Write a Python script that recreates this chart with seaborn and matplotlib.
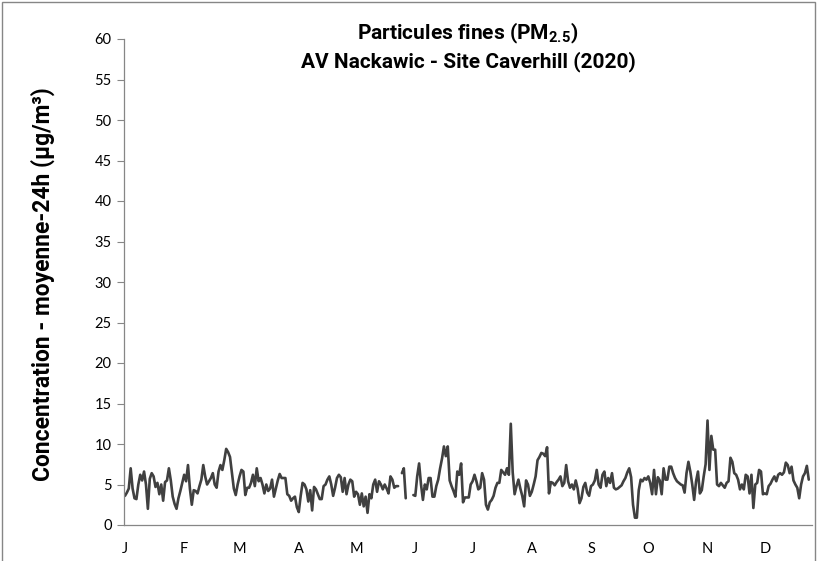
import pandas as pd
import matplotlib
matplotlib.use('Agg')
import matplotlib.pyplot as plt
import matplotlib.dates as mdates
from matplotlib.patches import Rectangle
import seaborn as sns

# Daily 24h mean PM2.5 (ug/m3), 2020 (NaN = missing day)
nan = float('nan')
jan = [3.6, 4.0, 4.5, 7.0, 4.5, 3.3, 3.2, 5.0, 6.2, 5.5, 6.6, 5.0, 2.0, 5.7, 6.4, 6.0,
       4.7, 5.2, 3.8, 5.0, 3.0, 5.3, 5.5, 7.0, 5.5, 3.5, 2.6, 2.0, 3.3, 4.2, 5.2]
feb = [6.2, 5.4, 7.4, 4.5, 2.5, 4.3, 4.2, 3.9, 4.8, 5.6, 7.4, 6.0, 5.0, 5.4, 5.8,
       6.4, 5.0, 4.6, 6.6, 7.4, 6.8, 8.0, 9.4, 9.0, 8.4, 6.5, 4.5, 3.7, 5.0]
mar = [6.0, 6.8, 6.6, 3.7, 4.6, 4.6, 5.2, 6.2, 4.8, 7.0, 5.4, 5.8, 5.0, 3.9, 5.0, 4.2,
       4.5, 5.6, 3.5, 4.5, 5.5, 6.3, 5.8, 5.8, 5.8, 3.8, 3.6, 3.0, 3.3, 3.5, 2.2]
apr = [1.6, 3.6, 5.2, 5.0, 4.4, 2.9, 4.3, 1.8, 4.7, 4.4, 3.8, 3.2, 3.2, 4.8, 5.0,
       5.6, 6.0, 5.0, 3.6, 4.6, 5.8, 6.2, 5.9, 4.1, 5.8, 3.8, 5.0, 5.6, 5.4, 3.5]
may = [4.1, 3.8, 2.5, 3.9, 2.3, 3.5, 1.5, 3.8, 3.3, 5.0, 5.6, 4.1, 5.4, 5.0, 4.4, 5.0,
       4.5, 3.9, 6.0, 5.6, 4.6, 4.8, 4.8, nan, 6.4, 7.0, 3.3, nan, nan, nan, 3.7]
jun = [3.6, 6.0, 7.6, 5.0, 3.1, 5.0, 4.4, 5.8, 5.8, 3.5, 3.5, 4.8, 5.6, 7.0, 8.2,
       9.7, 8.5, 9.7, 5.5, 4.8, 4.2, 3.5, 6.6, 6.2, 7.6, 2.8, 3.4, 3.4, 3.4, 5.0]
jul = [5.4, 6.2, 5.4, 4.4, 4.6, 6.4, 5.6, 2.5, 1.9, 2.8, 3.1, 3.6, 4.6, 5.2, 5.2, 6.8,
       6.5, 6.2, 7.0, 6.2, 12.5, 6.5, 3.8, 4.8, 5.6, 4.5, 3.6, 2.3, 5.5, 5.0, 3.6]
aug = [4.1, 5.0, 6.0, 8.0, 8.4, 8.9, 8.8, 8.5, 9.6, 3.9, 5.3, 5.2, 4.9, 5.3, 5.6, 6.0,
       4.8, 5.2, 7.4, 5.4, 4.6, 5.0, 4.4, 5.5, 4.5, 2.7, 3.3, 4.7, 5.2, 4.0, 3.6]
sep = [4.8, 5.0, 5.5, 6.8, 5.0, 4.6, 6.2, 6.6, 4.8, 5.8, 5.2, 6.4, 4.6, 4.4, 4.5,
       4.7, 4.9, 5.4, 5.8, 6.5, 7.0, 5.9, 2.5, 0.9, 0.9, 4.3, 5.6, 5.4, 5.8, 5.6]
oct_ = [6.0, 5.2, 3.8, 6.8, 3.8, 5.9, 5.5, 3.8, 7.0, 5.6, 5.6, 7.2, 7.2, 6.4, 5.8, 5.4,
        5.2, 5.0, 4.9, 4.0, 6.4, 7.8, 6.6, 5.0, 3.1, 5.4, 6.6, 3.9, 4.3, 6.0, 7.5]
nov = [12.9, 6.8, 11.0, 9.3, 9.3, 5.0, 4.8, 5.2, 4.9, 4.6, 5.2, 5.4, 8.3, 7.8, 6.4,
       6.2, 5.6, 4.4, 5.0, 4.4, 6.2, 6.0, 3.9, 6.2, 2.1, 5.0, 5.2, 6.8, 6.6, 3.8]
dec = [3.9, 3.8, 4.8, 5.1, 5.6, 6.0, 5.4, 6.2, 6.4, 6.2, 6.5, 7.7, 7.4, 6.4, 7.2, 5.5,
       5.0, 4.6, 3.3, 5.0, 6.0, 6.4, 7.3, 5.6]

month_labels = ['J', 'F', 'M', 'A', 'M', 'J', 'J', 'A', 'S', 'O', 'N', 'D']
y_ticks = list(range(0, 65, 5))

pm25 = jan + feb + mar + apr + may + jun + jul + aug + sep + oct_ + nov + dec
df = pd.DataFrame({'date': pd.date_range('2020-01-01', periods=len(pm25), freq='D'),
                   'pm25': pm25})
# split into segments at missing days so the line shows gaps
df['seg'] = df['pm25'].isna().cumsum()
df = df.dropna()

sns.set_theme(style='white')
plt.rcParams['font.family'] = ['Lato', 'DejaVu Sans']
plt.rcParams['text.color'] = 'black'
plt.rcParams['mathtext.fontset'] = 'custom'
plt.rcParams['mathtext.rm'] = 'Roboto:bold'
plt.rcParams['mathtext.bf'] = 'Roboto:bold'

fig = plt.figure(figsize=(8.18, 5.61), dpi=100)
ax = fig.add_axes([124 / 818, 36 / 561, 688 / 818, 486 / 561])

sns.lineplot(data=df, x='date', y='pm25', units='seg', estimator=None,
             color='#404040', linewidth=1.9, ax=ax, legend=False)

start = pd.Timestamp('2020-01-01')
ax.set_xlim(mdates.date2num(start - pd.Timedelta(hours=12)),
            mdates.date2num(start + pd.Timedelta(days=359.7)))
ax.set_ylim(0, 60)
ax.set_xticks(pd.date_range('2020-01-01', periods=12, freq='MS'))
ax.set_xticklabels(month_labels)
ax.set_yticks(y_ticks)
ax.set_xlabel('')
ax.set_ylabel('')

ax.tick_params(axis='x', length=0, pad=12, labelsize=10.5, labelcolor='black')
ax.tick_params(axis='y', length=5, width=0.8, color='#868686', direction='out',
               pad=4, labelsize=10.5, labelcolor='black')
ax.yaxis.set_tick_params(left=True)
sns.despine(ax=ax)
for side in ['left', 'bottom']:
    ax.spines[side].set_color('#868686')
    ax.spines[side].set_linewidth(0.9)

title_font = ['Roboto', 'DejaVu Sans']
fig.text(468 / 818, 1 - 33 / 561, r'Particules fines (PM$_{2.5}$)', family=title_font,
         ha='center', va='center', fontsize=15, fontweight='bold', color='black')
fig.text(468 / 818, 1 - 62 / 561, 'AV Nackawic - Site Caverhill (2020)', family=title_font,
         ha='center', va='center', fontsize=15, fontweight='bold', color='black')
fig.text(43 / 818, 1 - 284 / 561, 'Concentration - moyenne-24h (µg/m³)', family=title_font,
         rotation=90, ha='center', va='center', fontsize=16.5, fontweight='bold',
         color='black')

# chart border
fig.add_artist(Rectangle((2 / 818, -0.05), 813 / 818, 1.05 - 2 / 561,
                         transform=fig.transFigure, fill=False,
                         edgecolor='#868686', linewidth=1))

fig.savefig('out.png', dpi=100)
